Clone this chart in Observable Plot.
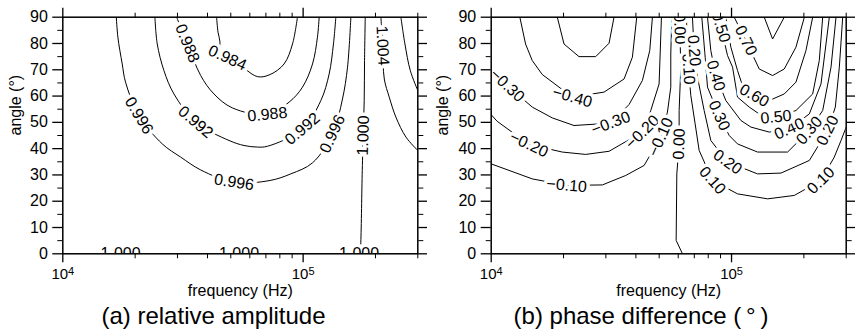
<!DOCTYPE html>
<html><head><meta charset="utf-8">
<script src="https://cdn.jsdelivr.net/npm/d3@7"></script>
<script src="https://cdn.jsdelivr.net/npm/@observablehq/plot@0.6"></script>
<style>
body{margin:0;background:#fff;font-family:"Liberation Sans",Arial,Helvetica,sans-serif;}
#wrap{display:flex;width:855px;height:331px;overflow:hidden;}
.panel{position:relative;}
.cap{font-size:24px;text-align:center;line-height:22px;color:#000;white-space:pre;}
</style></head><body><div id="wrap"></div>
<script>
// ---------- axes ----------
const freqTicks = [1e4, 1e5];
const freqMinorTicks = [2e4, 3e4, 4e4, 5e4, 6e4, 7e4, 8e4, 9e4, 2e5, 3e5];
const angleTicks = [0, 10, 20, 30, 40, 50, 60, 70, 80, 90];
const angleMinorTicks = [5, 15, 25, 35, 45, 55, 65, 75, 85];
const freqDomain = [1e4, 3e5];
const angleDomain = [0, 90];
const xTitle = "frequency (Hz)";
const yTitle = "angle (°)";

// ---------- (a) relative amplitude: contour lines [frequency Hz, angle deg] ----------
const amp0984 = [[43650,90],[44240,84.3],[45100,80.5],[44670,76.0],[48400,74.5],[52410,73.1],[64500,67.4],[72900,68.2],[83300,72.2],[90300,79.8],[94700,90]];
const amp0988 = [[29760,90],[32970,80.1],[37470,67.8],[42560,60.8],[50770,55.5],[71000,53.0],[87450,57.7],[99400,63.4],[109400,72.2],[114700,82.4],[116600,90]];
const amp0992 = [[24170,90],[24720,79.8],[26350,69.7],[29010,60.8],[35720,50.1],[49180,43.1],[56750,41.2],[64520,40.6],[71020,40.9],[99360,47.5],[118500,58.3],[128300,68.4],[133700,79.8],[136800,90]];
const amp0996 = [[16700,90],[16950,82.4],[17670,72.2],[18240,65.3],[20740,52.6],[25940,41.8],[30920,36.8],[37480,31.9],[51580,27.2],[72900,27.9],[88840,30.4],[109400,34.6],[132500,45.6],[145800,58.9],[153000,71.0],[158000,90]];
const amp1000 = [[181300,90],[180100,73.5],[179500,58.3],[177800,45.0],[176200,31.7],[173800,4.4],[172800,0]];
const amp1000Base = [[10000,0],[300000,0]];
const amp1004 = [[210700,90],[214100,79.2],[217600,66.5],[228200,59.6],[243200,52.0],[267800,44.4],[300000,39.3]];
const amp1008 = [[255200,90],[265200,79.8],[279200,69.7],[300000,62.1]];
const ampLines = [
  {level: 0.984, pts: amp0984}, {level: 0.988, pts: amp0988}, {level: 0.992, pts: amp0992},
  {level: 0.996, pts: amp0996}, {level: 1.000, pts: amp1000}, {level: 1.000, pts: amp1000Base},
  {level: 1.004, pts: amp1004}, {level: 1.008, pts: amp1008}
];
// contour labels [level, frequency, angle]
const ampLabels = [
  [0.996, 20740, 52.6], [0.996, 51580, 27.2], [0.996, 132500, 45.6],
  [0.992, 35720, 50.1], [0.992, 99360, 47.5],
  [0.988, 32970, 80.1], [0.988, 71000, 53.0],
  [0.984, 48400, 74.5],
  [1.000, 177800, 45.0], [1.004, 214100, 79.2],
  [1.000, 17400, 0], [1.000, 54100, 0], [1.000, 171000, 0]
];

// ---------- (b) phase difference ----------
const phM050 = [[18840,90],[20090,79.8],[23190,75.0],[27210,75.0],[30930,80.1],[32440,90]];
const phM040 = [[13160,90],[13900,79.8],[14820,73.5],[16310,68.2],[21750,59.6],[29480,61.5],[35720,66.5],[38680,74.8],[40320,90]];
const phM030 = [[10000,70.1],[10420,68.8],[11660,64.0],[14820,55.8],[17950,51.7],[22100,48.8],[31430,49.7],[37470,56.8],[42560,65.9],[45680,77.3],[46860,90]];
const phM020 = [[10000,52.9],[10590,50.4],[14350,41.6],[19760,38.7],[24720,37.8],[30930,39.0],[42560,46.3],[46120,54.5],[49960,64.6],[51090,90]];
const phM010 = [[10000,34.2],[14820,28.5],[20610,26.0],[29010,26.2],[36290,29.8],[43260,33.6],[50770,44.4],[54120,53.9],[55880,63.4],[55880,76.0],[56420,90]];
const ph000 = [[62490,0],[58820,5.1],[59200,30.4],[60530,41.8],[60530,54.5],[61510,71.0],[60920,85.6],[60100,90]];
const ph010 = [[64940,90],[65360,79.8],[66200,70.3],[67700,60.2],[70570,49.4],[73340,39.3],[83330,27.9],[105900,22.8],[141300,20.9],[182400,22.2],[235600,27.9],[267700,36.8],[285500,43.1],[300000,48.2]];
const ph020 = [[68770,90],[69880,77.3],[72150,67.2],[76940,54.5],[82000,43.1],[96240,34.9],[128300,30.4],[160600,30.7],[210700,35.5],[251200,46.9],[270300,55.8],[280900,71.0],[290100,90]];
const ph030 = [[75220,90],[77680,74.8],[79430,63.4],[88840,52.6],[97790,45.0],[105900,41.8],[128300,38.7],[171100,38.7],[210700,46.9],[239500,54.5],[259400,71.0],[272100,90]];
const ph040 = [[79430,90],[82000,77.3],[86040,67.8],[94710,58.3],[109400,50.7],[120400,48.2],[143500,46.3],[173800,47.5],[210700,53.2],[235600,64.6],[247200,79.8],[255200,90]];
const ph050 = [[86040,90],[90300,86.2],[96240,75.4],[101000,71.0],[105900,59.6],[118500,55.8],[130400,53.2],[153000,52.0],[185400,54.5],[217600,60.8],[231800,73.5],[239500,90]];
const ph060 = [[94710,90],[99360,78.6],[105900,69.7],[111100,64.0],[124300,60.2],[143500,58.3],[165700,60.8],[185400,65.3],[204000,77.3],[217600,90]];
const ph070 = [[102600,90],[114700,81.1],[130400,70.3],[148200,67.8],[165700,70.3],[185400,78.6],[200900,90]];
const ph080 = [[136800,90],[148200,81.7],[165700,90]];
const phLines = [
  {level: -0.5, pts: phM050}, {level: -0.4, pts: phM040}, {level: -0.3, pts: phM030},
  {level: -0.2, pts: phM020}, {level: -0.1, pts: phM010}, {level: 0, pts: ph000},
  {level: 0.1, pts: ph010}, {level: 0.2, pts: ph020}, {level: 0.3, pts: ph030},
  {level: 0.4, pts: ph040}, {level: 0.5, pts: ph050}, {level: 0.6, pts: ph060},
  {level: 0.7, pts: ph070}, {level: 0.8, pts: ph080}
];
const phLabels = [
  [-0.3, 11660, 64.0], [-0.3, 31430, 49.7], [-0.4, 21750, 59.6],
  [-0.2, 14350, 41.6], [-0.2, 42560, 46.3], [-0.1, 20610, 26.0], [-0.1, 50770, 44.4],
  [0, 60530, 41.8], [0, 60920, 85.6],
  [0.1, 66200, 70.3], [0.1, 83330, 27.9], [0.1, 235600, 27.9],
  [0.2, 69880, 77.3], [0.2, 96240, 34.9], [0.2, 251200, 46.9],
  [0.3, 88840, 52.6], [0.3, 210700, 46.9],
  [0.4, 86040, 67.8], [0.4, 173800, 47.5],
  [0.5, 90300, 86.2], [0.5, 153000, 52.0],
  [0.6, 124300, 60.2], [0.7, 114700, 81.1]
];

// ---------- drawing ----------
const FONT = '"Liberation Sans", Arial, Helvetica, sans-serif';
const H = 305, MT = 16.7, MB = 51.7;

function segDist(px, py, ax, ay, bx, by) {
  const vx = bx - ax, vy = by - ay, L2 = vx * vx + vy * vy;
  let t = L2 ? ((px - ax) * vx + (py - ay) * vy) / L2 : 0;
  t = Math.max(0, Math.min(1, t));
  return Math.hypot(px - (ax + t * vx), py - (ay + t * vy));
}

function panel({lines, labels, fmt, W, ml, mr, curve, caption}) {
  const xs = d3.scaleLog().domain(freqDomain).range([ml, W - mr]);
  const ys = d3.scaleLinear().domain(angleDomain).range([H - MB, MT]);
  const rows = [];
  lines.forEach((L, i) => L.pts.forEach(([f, a]) => rows.push({f, a, id: i})));
  const labRows = labels.map(([level, f, a]) => {
    const lx = xs(f), ly = ys(a);
    let seg = null, sd = Infinity, vtx = null, vd = Infinity;
    lines.forEach(L => {
      if (Math.abs(L.level - level) > 1e-9) return;
      const P = L.pts.map(([pf, pa]) => [xs(pf), ys(pa)]);
      P.forEach((p, i) => {
        const d = Math.hypot(p[0] - lx, p[1] - ly);
        if (d < vd) { vd = d; vtx = {P, i}; }
        if (i < P.length - 1) {
          const s = segDist(lx, ly, p[0], p[1], P[i + 1][0], P[i + 1][1]);
          if (s < sd) { sd = s; seg = [p, P[i + 1]]; }
        }
      });
    });
    let p0, p1;
    if (vd < 1) {
      p0 = vtx.P[Math.max(0, vtx.i - 1)];
      p1 = vtx.P[Math.min(vtx.P.length - 1, vtx.i + 1)];
    } else { [p0, p1] = seg; }
    let rot = Math.atan2(p1[1] - p0[1], p1[0] - p0[0]) * 180 / Math.PI;
    if (rot > 90) rot -= 180;
    if (rot <= -90) rot += 180;
    return {f, a, text: fmt(level), rot};
  });
  const blank = () => "";
  const svg = Plot.plot({
    width: W, height: H, marginLeft: ml, marginRight: mr, marginTop: MT, marginBottom: MB,
    x: {type: "log", domain: freqDomain},
    y: {domain: angleDomain},
    style: {fontFamily: FONT, fontSize: "16px", background: "white", color: "black", overflow: "visible"},
    marks: [
      Plot.line(rows, {x: "f", y: "a", z: "id", stroke: "black", strokeWidth: 1, curve, clip: "frame"}),
      Plot.text(labRows, {x: "f", y: "a", text: "text", rotate: "rot", fill: "black", stroke: "white",
        strokeWidth: 7, paintOrder: "stroke", fontSize: 16, clip: "frame"}),
      Plot.frame({stroke: "black", strokeWidth: 1.5}),
      Plot.axisY(angleTicks, {anchor: "left", tickSize: 10, tickPadding: 5, fontSize: 16, strokeWidth: 1.3, label: null}),
      Plot.axisY(angleMinorTicks, {anchor: "left", tickSize: 5, tickFormat: blank, label: null}),
      Plot.axisY(angleTicks, {anchor: "right", tickSize: 9, tickFormat: blank, label: null, strokeWidth: 1.3}),
      Plot.axisY(angleMinorTicks, {anchor: "right", tickSize: 5, tickFormat: blank, label: null}),
      Plot.axisX(freqTicks, {anchor: "bottom", tickSize: 9, tickPadding: 6, fontSize: 15, strokeWidth: 1.3,
        tickFormat: d => "10^" + Math.round(Math.log10(d)), label: null}),
      Plot.axisX(freqMinorTicks, {anchor: "bottom", tickSize: 5, tickFormat: blank, label: null}),
      Plot.axisX(freqTicks, {anchor: "top", tickSize: 10, tickFormat: blank, label: null, strokeWidth: 1.3}),
      Plot.axisX(freqMinorTicks, {anchor: "top", tickSize: 5, tickFormat: blank, label: null}),
      Plot.text([xTitle], {text: d => d, frameAnchor: "bottom", dy: 42, fontSize: 16, fill: "black"}),
      Plot.text([yTitle], {text: d => d, frameAnchor: "left", dx: -(ml - 15), rotate: -90, fontSize: 16, fill: "black"})
    ]
  });
  svg.querySelectorAll('[aria-label="x-axis tick label"] text').forEach(t => {
    const s = t.textContent;
    if (!s.includes("^")) return;
    const [b, e] = s.split("^");
    t.textContent = b;
    const ts = document.createElementNS("http://www.w3.org/2000/svg", "tspan");
    ts.setAttribute("dy", "-0.45em");
    ts.setAttribute("font-size", "11");
    ts.textContent = e;
    t.appendChild(ts);
  });
  const div = document.createElement("div");
  div.className = "panel";
  div.style.width = W + "px";
  div.appendChild(svg);
  const cap = document.createElement("div");
  cap.className = "cap";
  cap.textContent = caption;
  div.appendChild(cap);
  document.getElementById("wrap").appendChild(div);
}

panel({lines: ampLines, labels: ampLabels, fmt: v => v.toFixed(3), W: 427, ml: 62.3, mr: 9.7,
  curve: "catmull-rom", caption: "(a) relative amplitude"});
panel({lines: phLines, labels: phLabels, fmt: v => (v < 0 ? "\u2212" : "") + Math.abs(v).toFixed(2), W: 428, ml: 63.7, mr: 9.3,
  curve: "linear", caption: "(b) phase difference (\u2009°\u2009)"});
</script></body></html>
